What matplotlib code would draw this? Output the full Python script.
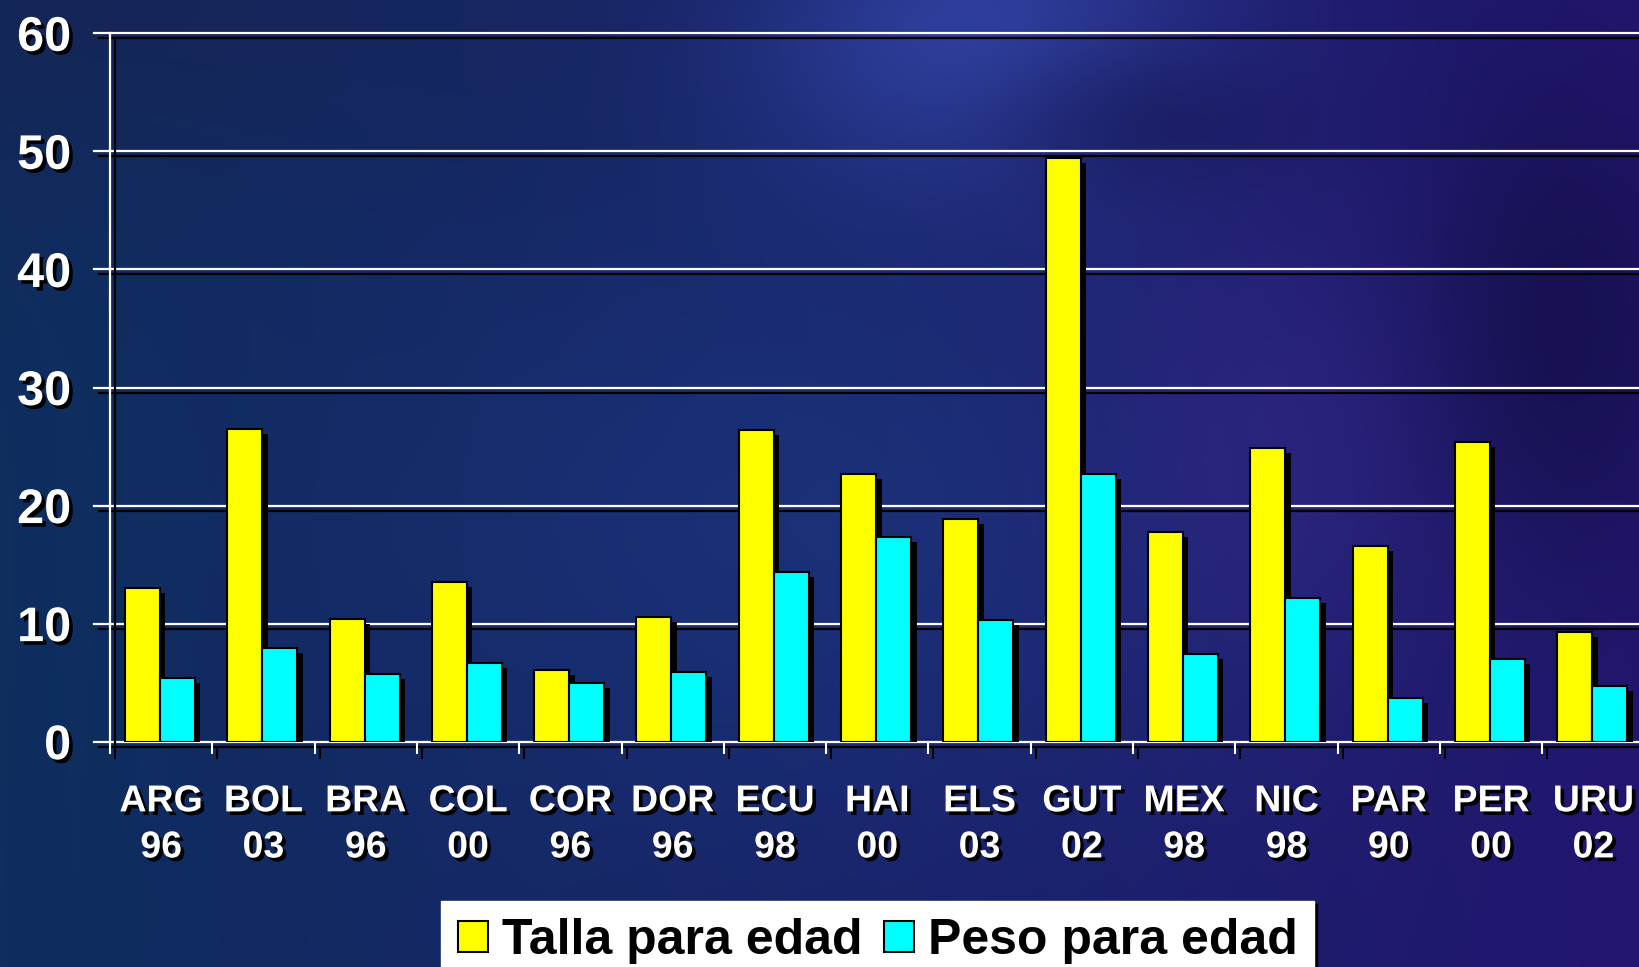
import numpy as np
import matplotlib
matplotlib.use("Agg")
import matplotlib.pyplot as plt
import matplotlib.patheffects as pe

# ---------------- data ----------------
countries = ["ARG", "BOL", "BRA", "COL", "COR", "DOR", "ECU", "HAI",
             "ELS", "GUT", "MEX", "NIC", "PAR", "PER", "URU"]
years = ["96", "03", "96", "00", "96", "96", "98", "00",
         "03", "02", "98", "98", "90", "00", "02"]
talla = [13.0, 26.5, 10.4, 13.5, 6.1, 10.6, 26.4, 22.7,
         18.9, 49.4, 17.8, 24.9, 16.6, 25.4, 9.3]
peso = [5.4, 7.9, 5.7, 6.7, 5.0, 5.9, 14.4, 17.3,
        10.3, 22.7, 7.4, 12.2, 3.7, 7.0, 4.7]
series_names = ["Talla para edad", "Peso para edad"]
yticks = [0, 10, 20, 30, 40, 50, 60]

# ---------------- figure ----------------
W, H = 1639, 967
fig = plt.figure(figsize=(W / 100, H / 100), dpi=100)
FONT = "Liberation Sans"

# background (styling only)
bg = fig.add_axes([0, 0, 1, 1], zorder=-10)
bg.set_axis_off()
yy, xx = np.mgrid[0:H, 0:W].astype(float)
t = xx / W
left = np.array([14, 46, 94]) / 255.0
right = np.array([34, 22, 112]) / 255.0
img = left[None, None, :] * (1 - t[..., None]) + right[None, None, :] * t[..., None]

def blob(cx, cy, sx, sy, col, strength):
    g = np.exp(-(((xx - cx) / sx) ** 2 + ((yy - cy) / sy) ** 2))
    c = np.array(col) / 255.0
    return g[..., None] * strength, c

for (cx, cy, sx, sy, col, s) in [
    (980, 40, 230, 160, (52, 70, 170), 0.85),
    (820, 520, 420, 320, (28, 58, 130), 0.6),
    (1300, 450, 220, 250, (55, 40, 140), 0.5),
    (1560, 330, 150, 260, (18, 14, 70), 0.7),
    (1150, 120, 160, 80, (20, 20, 80), 0.5),
    (0, 0, 500, 200, (24, 34, 84), 0.6),
]:
    g, c = blob(cx, cy, sx, sy, col, s)
    img = img * (1 - g) + c[None, None, :] * g
bg.imshow(np.clip(img, 0, 1), aspect="auto", extent=[0, 1, 0, 1],
          transform=fig.transFigure, interpolation="bilinear")

# main axes
ax_left, ax_right = 110, 1644.5
ax_bottom, ax_top = 741.7, 33.3
ax = fig.add_axes([ax_left / W, 1 - ax_bottom / H,
                   (ax_right - ax_left) / W, (ax_bottom - ax_top) / H])
ax.set_facecolor("none")
ax.set_xlim(-0.5, len(countries) - 0.5)
ax.set_ylim(0, 60)

shadow_line = [pe.SimpleLineShadow(offset=(3.6, -3.6), shadow_color="black", alpha=1.0), pe.Normal()]
shadow_patch = [pe.SimplePatchShadow(offset=(4.0, -3.6), shadow_rgbFace="black", alpha=1.0), pe.Normal()]
shadow_text = [pe.SimplePatchShadow(offset=(2.6, -2.6), shadow_rgbFace="black", alpha=1.0), pe.Normal()]

# gridlines (extend slightly left of axis like outward ticks)
ext = -16 / (ax_right - ax_left)
for v in yticks:
    ln = ax.axhline(v, xmin=ext, xmax=1, color="white", lw=1.6, zorder=1, clip_on=False)
    ln.set_path_effects(shadow_line)

x = np.arange(len(countries))
w = 0.342
b1 = ax.bar(x - 0.183, talla, width=w, color="#FFFF00", edgecolor="black", lw=1.5,
            zorder=3, label=series_names[0])
b2 = ax.bar(x + 0.159, peso, width=w, color="#00FFFF", edgecolor="black", lw=1.5,
            zorder=3, label=series_names[1])
for p in list(b1) + list(b2):
    p.set_path_effects(shadow_patch)

# spines
for s in ["top", "right"]:
    ax.spines[s].set_visible(False)
ax.spines["bottom"].set_visible(False)
ax.spines["left"].set_color("white")
ax.spines["left"].set_linewidth(1.6)
ax.spines["left"].set_path_effects(shadow_line)
ax.spines["left"].set_zorder(2)

# y tick labels
ax.set_yticks(yticks)
ax.set_yticklabels([str(v) for v in yticks])
ax.tick_params(axis="y", length=0, pad=28, labelcolor="white", labelsize=35)
for lab in ax.get_yticklabels():
    lab.set_fontfamily(FONT)
    lab.set_fontweight("bold")
    lab.set_path_effects(shadow_text)

# x ticks: boundaries (major) and category labels (minor)
ax.set_xticks(np.arange(-0.5, len(countries), 1.0))
ax.set_xticklabels([])
ax.tick_params(axis="x", which="major", length=8.5, width=1.5, color="white", direction="out")
for tk in ax.xaxis.get_major_ticks():
    tk.tick1line.set_path_effects(shadow_line)
ax.set_xticks(x, minor=True)
ax.set_xticklabels([f"{c}\n{y}" for c, y in zip(countries, years)], minor=True)
ax.tick_params(axis="x", which="minor", length=0, pad=30, labelcolor="white", labelsize=27)
for lab in ax.get_xticklabels(minor=True):
    lab.set_fontfamily(FONT)
    lab.set_fontweight("bold")
    lab.set_linespacing(1.36)
    lab.set_path_effects(shadow_text)

# legend
leg = ax.legend(handles=[b1, b2], labels=series_names, loc="upper left",
                bbox_to_anchor=(441 / W, 1 - 901 / H), bbox_transform=fig.transFigure,
                borderaxespad=0, ncol=2, frameon=True, fancybox=False,
                shadow={"color": "black", "alpha": 1.0},
                prop={"family": FONT, "weight": "bold", "size": 36},
                handlelength=0.6, handleheight=0.6, handletextpad=0.28,
                columnspacing=0.42, borderpad=0.34)
leg.get_frame().set_facecolor("white")
leg.get_frame().set_edgecolor("white")
leg.get_frame().set_alpha(1.0)
for h in leg.legend_handles:
    h.set_path_effects([])

fig.savefig("out.png", dpi=100)
